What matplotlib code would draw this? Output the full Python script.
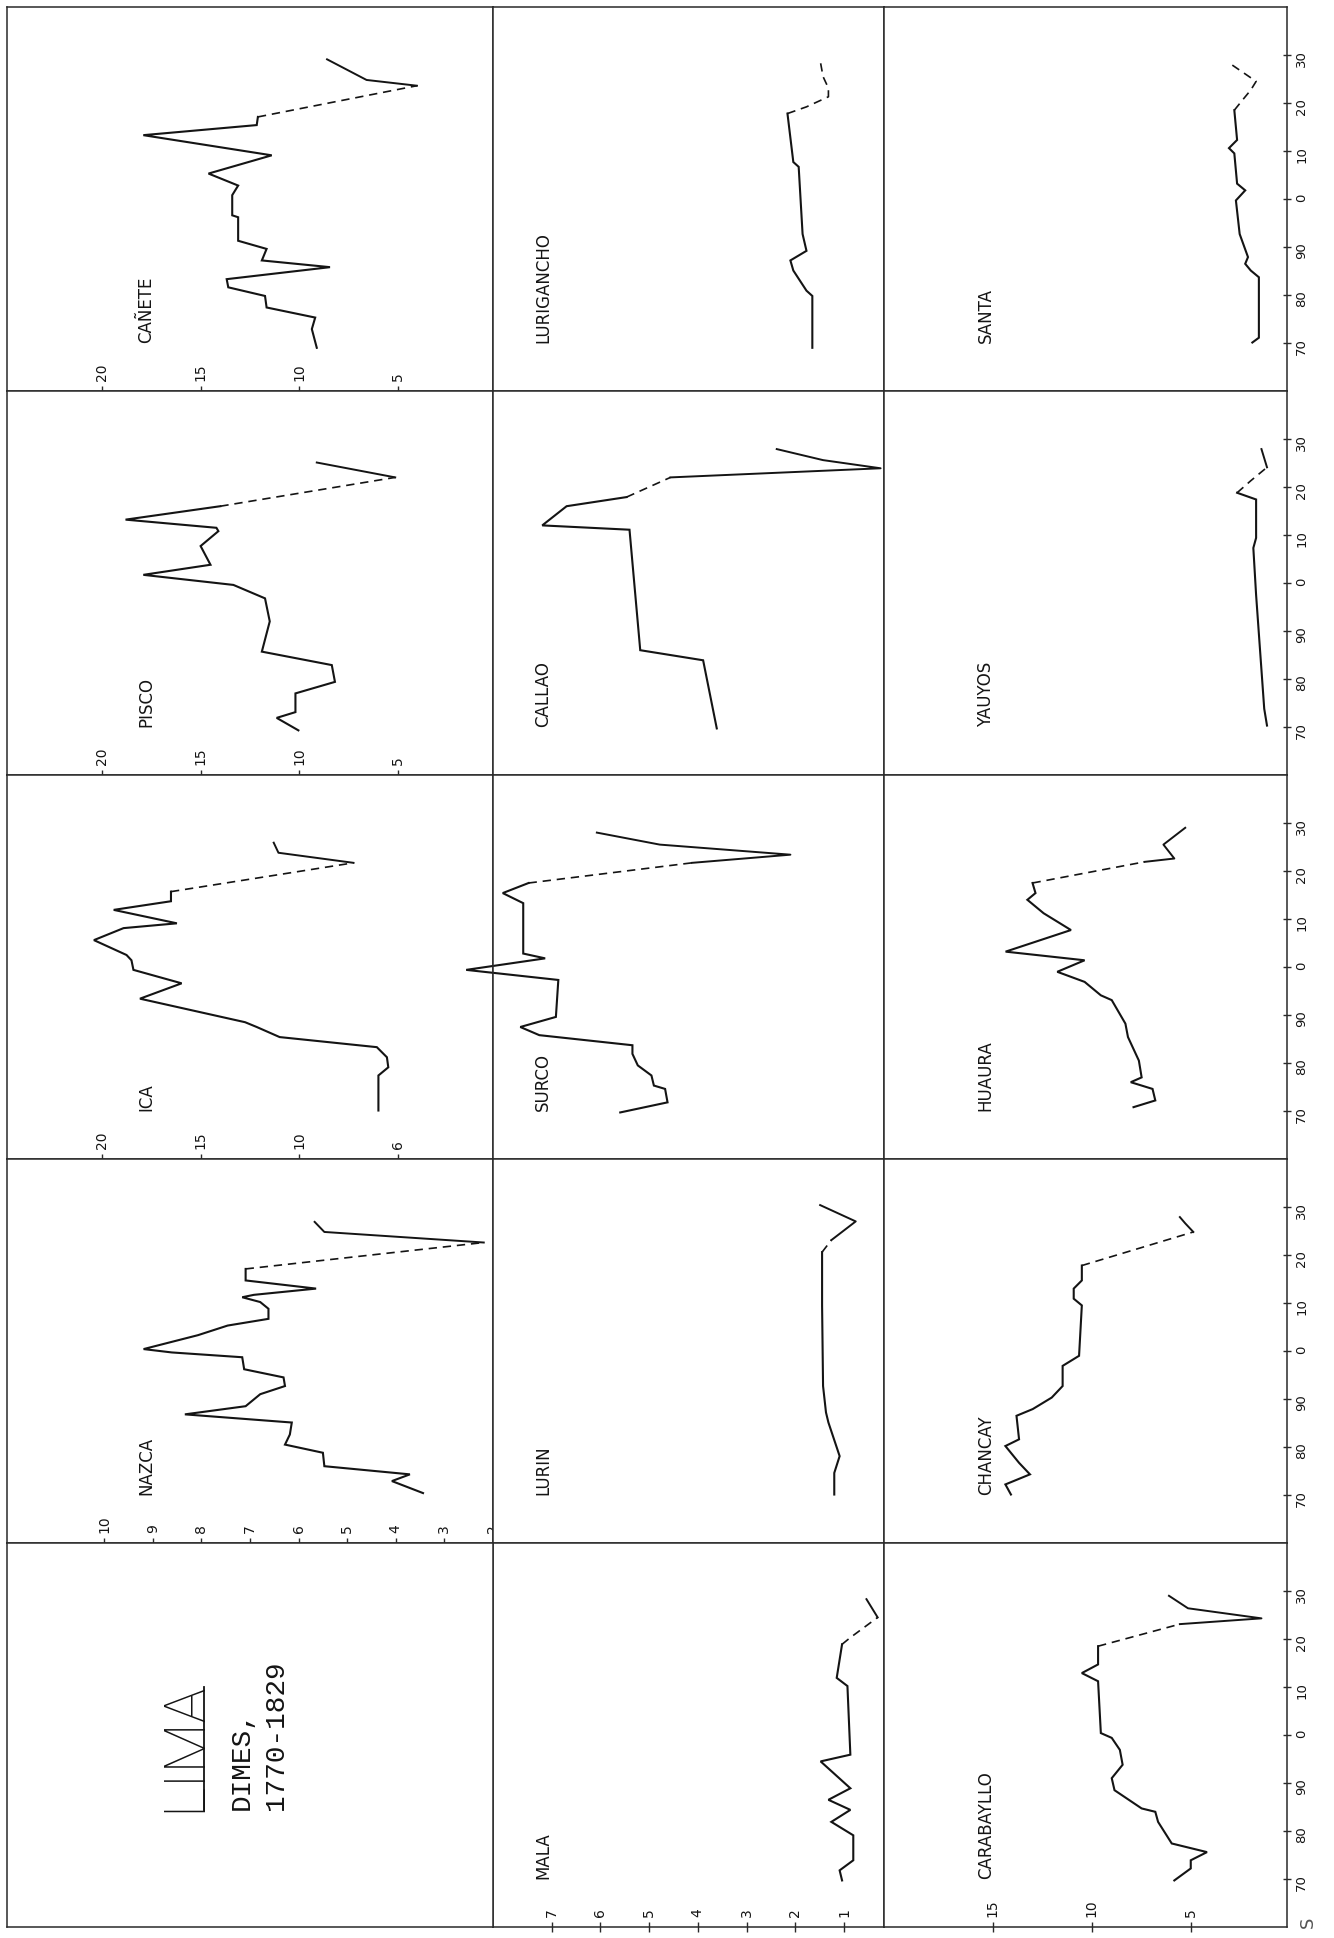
import matplotlib
matplotlib.use('Agg')
import matplotlib.pyplot as plt

W, H = 1334, 1938

# ---- data: year, dimes (value) ----
canete_yr = [1769.0, 1772.9, 1775.3, 1777.4, 1779.8, 1781.6, 1783.3, 1785.8, 1787.2, 1789.6, 1791.3, 1796.2,
             1796.6, 1800.8, 1802.8, 1805.3, 1809.1, 1813.3, 1815.4, 1817.1, 1823.6, 1824.8, 1829.1]
canete_val = [9.12, 9.37, 9.2, 11.66, 11.74, 13.6, 13.68, 8.45, 11.9, 11.66, 13.1, 13.1,
              13.4, 13.4, 13.1, 14.6, 11.4, 17.9, 12.16, 12.1, 4.05, 6.6, 8.6]
canete_gap = (1817.1, 1823.6)

pisco_yr = [1769.3, 1771.9, 1773.1, 1777.0, 1779.4, 1782.9, 1785.7, 1792.0, 1796.8, 1799.6, 1801.7, 1803.8,
            1807.7, 1810.8, 1811.5, 1813.2, 1816.0, 1822.0, 1825.1]
pisco_val = [10.05, 11.15, 10.2, 10.2, 8.2, 8.36, 11.9, 11.5, 11.74, 13.34, 17.9, 14.5,
             15.0, 14.1, 14.2, 18.8, 14.0, 5.15, 9.12]
pisco_gap = (1816.0, 1822.0)

ica_yr = [1770.1, 1777.4, 1779.1, 1781.2, 1783.3, 1785.4, 1787.5, 1788.5, 1793.4, 1796.6, 1799.4, 1801.4,
          1802.5, 1805.6, 1808.1, 1809.1, 1811.9, 1813.7, 1815.7, 1821.7, 1823.8, 1825.9]
ica_val = [6.0, 6.0, 5.5, 5.57, 6.08, 11.0, 12.16, 12.75, 18.07, 15.96, 18.4, 18.5,
           18.75, 20.4, 18.9, 16.2, 19.4, 16.5, 16.5, 7.26, 11.06, 11.3]
ica_gap = (1815.7, 1821.7)

nazca_yr = [1770.4, 1772.9, 1774.3, 1776.0, 1778.8, 1780.5, 1782.6, 1785.1, 1786.8, 1788.5, 1791.0, 1792.7,
            1794.5, 1796.2, 1798.7, 1799.7, 1800.4, 1803.3, 1805.3, 1806.7, 1808.8, 1810.2, 1811.2, 1811.7,
            1813.0, 1814.7, 1817.1, 1822.6, 1824.8, 1826.9]
nazca_val = [3.44, 4.08, 3.71, 5.47, 5.5, 6.28, 6.18, 6.14, 8.34, 7.09, 6.79, 6.28,
             6.31, 7.12, 7.16, 8.61, 9.19, 8.07, 7.46, 6.62, 6.62, 6.79, 7.16, 6.92,
             5.64, 7.09, 7.09, 2.19, 5.47, 5.67]
nazca_gap = (1817.1, 1822.6)

lurigancho_yr = [1769.0, 1779.8, 1780.9, 1785.1, 1787.2, 1789.2, 1792.7, 1806.7, 1807.7, 1817.8, 1819.2,
                 1821.3, 1823.1, 1825.5, 1828.3]
lurigancho_val = [1.65, 1.65, 1.77, 2.04, 2.1, 1.77, 1.85, 1.93, 2.04, 2.16, 1.77, 1.32, 1.32, 1.43, 1.48]
lurigancho_gap = (1817.8, 1828.3)

callao_yr = [1769.7, 1783.9, 1786.0, 1811.1, 1812.0, 1816.0, 1817.9, 1822.0, 1823.9, 1825.6, 1827.9]
callao_val = [3.61, 3.89, 5.18, 5.40, 7.19, 6.69, 5.46, 4.56, 0.25, 1.43, 2.38]
callao_gap = (1817.9, 1822.0)

surco_yr = [1769.7, 1771.8, 1774.6, 1775.3, 1777.4, 1779.5, 1781.9, 1783.7, 1785.8, 1787.5, 1789.6, 1797.3,
            1799.4, 1801.8, 1802.8, 1813.3, 1815.4, 1817.5, 1821.7, 1823.4, 1825.5, 1828.0]
surco_val = [5.59, 4.62, 4.67, 4.90, 4.95, 5.23, 5.34, 5.34, 7.25, 7.64, 6.91, 6.86,
             8.75, 7.13, 7.58, 7.58, 8.00, 7.47, 4.12, 2.10, 4.78, 6.07]
surco_gap = (1817.5, 1821.7)

lurin_yr = [1770.1, 1774.6, 1778.1, 1785.1, 1787.2, 1792.7, 1809.5, 1820.6, 1823.1, 1827.0, 1830.4]
lurin_val = [1.20, 1.20, 1.09, 1.32, 1.37, 1.43, 1.45, 1.45, 1.26, 0.76, 1.49]
lurin_gap = (1820.6, 1823.1)

mala_yr = [1769.7, 1771.8, 1773.9, 1779.1, 1781.9, 1784.4, 1786.5, 1788.9, 1794.5, 1795.9, 1810.2, 1811.9,
           1818.9, 1820.3, 1824.5, 1828.3]
mala_val = [1.04, 1.09, 0.81, 0.81, 1.26, 0.87, 1.32, 0.87, 1.48, 0.87, 0.93, 1.15,
            1.04, 0.87, 0.31, 0.54]
mala_gap = (1818.9, 1824.5)

santa_yr = [1770.1, 1771.1, 1783.7, 1785.1, 1786.5, 1787.9, 1792.7, 1799.7, 1801.8, 1803.2, 1809.5, 1810.6,
            1812.3, 1818.5, 1820.6, 1822.7, 1824.5, 1828.0]
santa_val = [1.90, 1.57, 1.57, 1.98, 2.26, 2.12, 2.54, 2.73, 2.26, 2.67, 2.81, 3.08,
             2.67, 2.81, 2.40, 1.98, 1.71, 2.95]
santa_gap = (1818.5, 1828.0)

yauyos_yr = [1770.3, 1773.8, 1797.5, 1807.3, 1809.4, 1817.4, 1818.8, 1821.3, 1824.1, 1827.9]
yauyos_val = [1.16, 1.30, 1.71, 1.85, 1.71, 1.71, 2.67, 1.98, 1.16, 1.44]
yauyos_gap = (1818.8, 1824.1)

huaura_yr = [1770.8, 1772.2, 1774.6, 1776.0, 1777.0, 1780.5, 1785.4, 1788.2, 1793.1, 1794.1, 1796.9, 1799.0,
             1801.4, 1803.2, 1807.7, 1811.2, 1814.0, 1815.4, 1817.5, 1821.9, 1822.6, 1825.5, 1829.0]
huaura_val = [7.90, 6.80, 6.94, 8.04, 7.49, 7.63, 8.18, 8.31, 9.00, 9.55, 10.37, 11.75,
              10.37, 14.36, 11.06, 12.44, 13.26, 12.85, 13.00, 7.35, 5.84, 6.39, 5.29]
huaura_gap = (1817.5, 1821.9)

chancay_yr = [1770.1, 1772.2, 1774.3, 1776.7, 1780.2, 1781.6, 1786.5, 1787.9, 1790.3, 1792.7, 1796.9, 1799.0,
              1809.5, 1810.9, 1813.0, 1814.7, 1817.8, 1824.8, 1826.6, 1827.9]
chancay_val = [14.09, 14.37, 13.13, 13.68, 14.37, 13.68, 13.81, 12.99, 12.03, 11.48, 11.48, 10.65,
               10.51, 10.92, 10.92, 10.51, 10.51, 4.88, 5.29, 5.56]
chancay_gap = (1817.8, 1824.8)

carabayllo_yr = [1769.7, 1772.2, 1773.9, 1775.6, 1777.4, 1781.9, 1784.0, 1784.7, 1788.5, 1791.0, 1793.8,
                 1796.9, 1799.4, 1800.4, 1811.2, 1812.9, 1814.7, 1818.5, 1823.1, 1824.3, 1826.4, 1829.0]
carabayllo_val = [5.84, 5.01, 5.01, 4.19, 5.97, 6.66, 6.80, 7.49, 8.86, 9.00, 8.45,
                  8.59, 9.00, 9.55, 9.69, 10.51, 9.69, 9.69, 5.56, 1.44, 5.15, 6.11]
carabayllo_gap = (1818.5, 1823.1)

year_ticks = [1770, 1780, 1790, 1800, 1810, 1820, 1830]
year_labels = ['70', '80', '90', '0', '10', '20', '30']

# value axes labels (only some panels carry them)
val_ticks = {
    'CAÑETE': ([20, 15, 10, 5], ['20', '15', '10', '5']),
    'PISCO': ([20, 15, 10, 5], ['20', '15', '10', '5']),
    'ICA': ([20, 15, 10, 5], ['20', '15', '10', '6']),
    'NAZCA': ([10, 9, 8, 7, 6, 5, 4, 3, 2], ['10', '9', '8', '7', '6', '5', '4', '3', '2']),
    'MALA': ([7, 6, 5, 4, 3, 2, 1], ['7', '6', '5', '4', '3', '2', '1']),
    'CARABAYLLO': ([15, 10, 5], ['15', '10', '5']),
}

# (row, col, name, years, values, dashed stretch)
panels = [
    (0, 0, 'CAÑETE', canete_yr, canete_val, canete_gap),
    (1, 0, 'PISCO', pisco_yr, pisco_val, pisco_gap),
    (2, 0, 'ICA', ica_yr, ica_val, ica_gap),
    (3, 0, 'NAZCA', nazca_yr, nazca_val, nazca_gap),
    (0, 1, 'LURIGANCHO', lurigancho_yr, lurigancho_val, lurigancho_gap),
    (1, 1, 'CALLAO', callao_yr, callao_val, callao_gap),
    (2, 1, 'SURCO', surco_yr, surco_val, surco_gap),
    (3, 1, 'LURIN', lurin_yr, lurin_val, lurin_gap),
    (4, 1, 'MALA', mala_yr, mala_val, mala_gap),
    (0, 2, 'SANTA', santa_yr, santa_val, santa_gap),
    (1, 2, 'YAUYOS', yauyos_yr, yauyos_val, yauyos_gap),
    (2, 2, 'HUAURA', huaura_yr, huaura_val, huaura_gap),
    (3, 2, 'CHANCAY', chancay_yr, chancay_val, chancay_gap),
    (4, 2, 'CARABAYLLO', carabayllo_yr, carabayllo_val, carabayllo_gap),
]

# layout of the (rotated) page, pixels
col_x = [7, 493, 884, 1287]
row_y = [7, 391, 775, 1159, 1543, 1927]
col_xlim = [(24.8, 0.2), (8.2, 0.18), (20.5, 0.15)]
name_x = [0.286, 0.128, 0.2525]
INK = '#141414'

fig = plt.figure(figsize=(W / 100, H / 100), dpi=100)


def make_axes(r, c):
    x0, x1 = col_x[c], col_x[c + 1]
    y0, y1 = row_y[r], row_y[r + 1]
    ax = fig.add_axes([x0 / W, 1 - y1 / H, (x1 - x0) / W, (y1 - y0) / H])
    ax.set_ylim(1760, 1840)
    ax.set_facecolor('white')
    for s in ax.spines.values():
        s.set_linewidth(1.1)
        s.set_color('#2a2a2a')
    ax.set_xticks([])
    ax.set_yticks([])
    return ax


def nearest(lst, v):
    return min(range(len(lst)), key=lambda i: abs(lst[i] - v))


for r, c, name, yrs, vals, gap in panels:
    ax = make_axes(r, c)
    ax.set_xlim(*((12.0, 2.0) if name == 'NAZCA' else col_xlim[c]))

    i0, i1 = nearest(yrs, gap[0]), nearest(yrs, gap[1])
    ax.plot(vals[:i0 + 1], yrs[:i0 + 1], color=INK, lw=1.5, clip_on=False, solid_joinstyle='miter')
    ax.plot(vals[i0:i1 + 1], yrs[i0:i1 + 1], color=INK, lw=1.2, dashes=(5, 3.5), clip_on=False)
    if i1 < len(yrs) - 1:
        ax.plot(vals[i1:], yrs[i1:], color=INK, lw=1.4, clip_on=False)

    ax.text(name_x[c], 0.125, name, transform=ax.transAxes, rotation=90,
            ha='center', va='bottom', fontsize=12, color=INK)

    if name in val_ticks:
        t, lab = val_ticks[name]
        ax.set_xticks(t)
        ax.set_xticklabels(lab)
        ax.tick_params(axis='x', direction='inout', length=7, width=1, color='#2a2a2a',
                       labelrotation=90, pad=-11, labelsize=10, labelcolor=INK)
        for tl in ax.get_xticklabels():
            tl.set_va('bottom')

    if c == 2:
        ax.yaxis.tick_right()
        ax.set_yticks(year_ticks)
        ax.set_yticklabels(year_labels)
        ax.tick_params(axis='y', direction='inout', length=6, width=1, color='#2a2a2a',
                       labelrotation=90, pad=3, labelsize=9.5, labelcolor=INK)

# title panel
tax = make_axes(4, 0)
tax.set_xlim(0, 1)
tax.text(0.366, 0.3, 'LIMA', transform=tax.transAxes, rotation=90, ha='center', va='bottom',
         fontsize=42, family='Roboto', fontweight='light', color=INK)
tax.plot([0.405, 0.405], [0.305, 0.625], transform=tax.transAxes, color=INK, lw=1.3)
tax.text(0.482, 0.305, 'DIMES,', transform=tax.transAxes, rotation=90, ha='center', va='bottom',
         fontsize=20, family='Liberation Mono', color=INK)
tax.text(0.553, 0.305, '1770-1829', transform=tax.transAxes, rotation=90, ha='center', va='bottom',
         fontsize=20, family='Liberation Mono', color=INK)

fig.text(1308 / W, 1 - 1922 / H, 'S', rotation=90, ha='center', va='center', fontsize=13, color='#555555')

fig.savefig('out.png', dpi=100, facecolor='white')
